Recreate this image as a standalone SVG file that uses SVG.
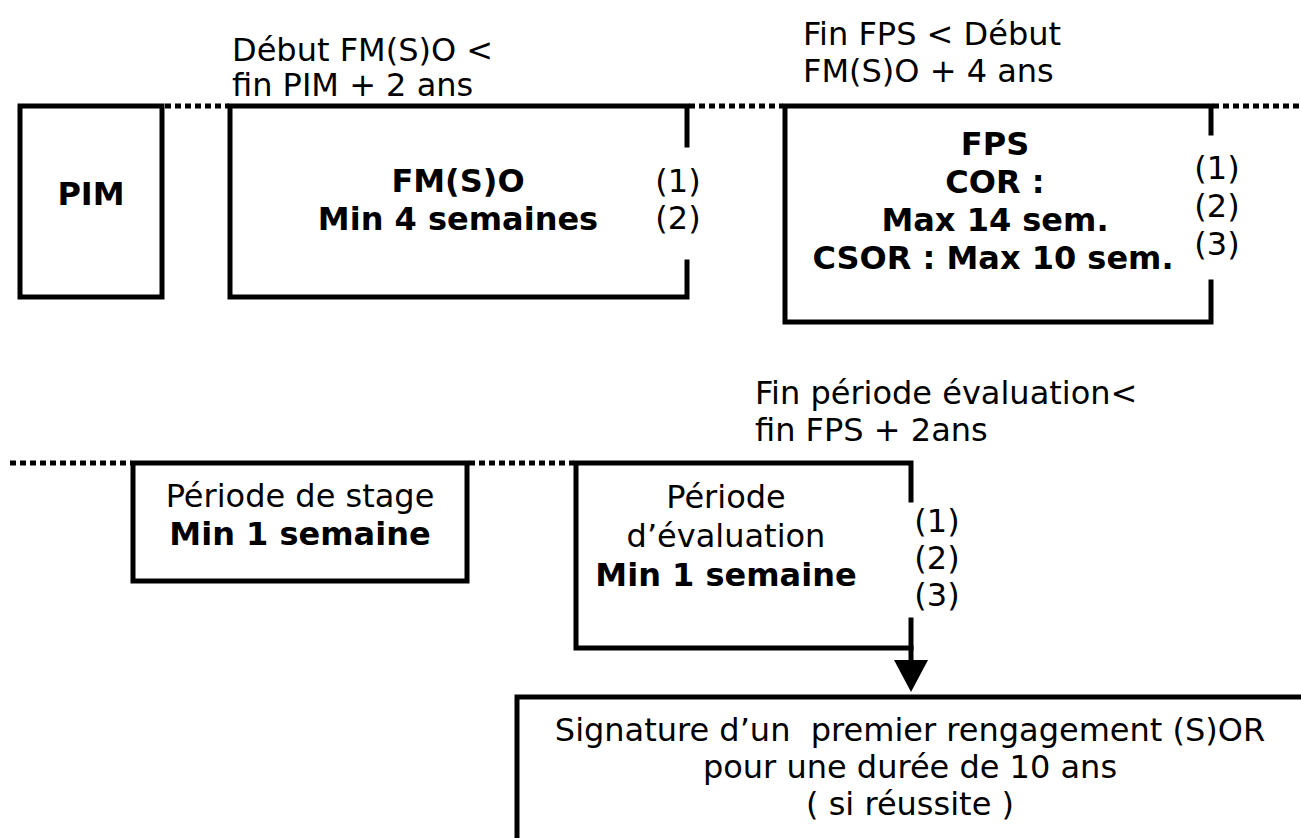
<svg xmlns="http://www.w3.org/2000/svg" width="1301" height="838" viewBox="0 0 1301 838">
<style>
text{font-family:"DejaVu Sans",Verdana,sans-serif;font-size:32px;fill:#000}
.b{font-weight:bold}
.m{text-anchor:middle}
.box{fill:none;stroke:#000;stroke-width:5;stroke-linecap:square}
.dot{fill:none;stroke:#000;stroke-width:5;stroke-dasharray:6 4}
</style>
<rect width="1301" height="838" fill="#fff"/>
<g id="connectors">
<path class="dot" d="M165,106H229"/>
<path class="dot" d="M689,106H783"/>
<path class="dot" d="M1213,106H1301"/>
<path class="dot" d="M10,463H131"/>
<path class="dot" d="M469,463H574"/>
<path class="box" d="M911,620V662"/>
<polygon points="894,660 928,660 911,692" fill="#000"/>
</g>
<g id="pim">
<rect class="box" x="20" y="106" width="142" height="191"/>
<text class="b m" x="91" y="205">PIM</text>
</g>
<g id="label-debut">
<text x="232" y="61">Début FM(S)O &lt;</text>
<text x="232" y="96">fin PIM + 2 ans</text>
</g>
<g id="fmso">
<path class="box" d="M687,145V106H230V297H687V262"/>
<text class="b m" x="458" y="192">FM(S)O</text>
<text class="b m" x="458" y="230">Min 4 semaines</text>
<text class="m" x="678" y="192">(1)</text>
<text class="m" x="678" y="229">(2)</text>
</g>
<g id="label-finfps">
<text x="803" y="45">Fin FPS &lt; Début</text>
<text x="803" y="82">FM(S)O + 4 ans</text>
</g>
<g id="fps">
<path class="box" d="M1211,133V106H785V322H1211V282"/>
<text class="b m" x="995" y="155">FPS</text>
<text class="b m" x="995" y="193">COR :</text>
<text class="b m" x="995" y="231">Max 14 sem.</text>
<text class="b m" x="993" y="269">CSOR : Max 10 sem.</text>
<text class="m" x="1217" y="179">(1)</text>
<text class="m" x="1217" y="217">(2)</text>
<text class="m" x="1217" y="255">(3)</text>
</g>
<g id="label-fineval">
<text x="755" y="404">Fin période évaluation&lt;</text>
<text x="755" y="441">fin FPS + 2ans</text>
</g>
<g id="stage">
<rect class="box" x="133" y="463" width="334" height="118"/>
<text class="m" x="300" y="507">Période de stage</text>
<text class="b m" x="300" y="545">Min 1 semaine</text>
</g>
<g id="evaluation">
<path class="box" d="M911,500V463H576V648H911"/>
<text class="m" x="726" y="508">Période</text>
<text class="m" x="726" y="547">d’évaluation</text>
<text class="b m" x="726" y="586">Min 1 semaine</text>
<text class="m" x="937" y="532">(1)</text>
<text class="m" x="937" y="569">(2)</text>
<text class="m" x="937" y="606">(3)</text>
</g>
<g id="signature">
<path class="box" d="M517,845V697H1310"/>
<text class="m" x="910" y="741" xml:space="preserve">Signature d’un  premier rengagement (S)OR</text>
<text class="m" x="910" y="778">pour une durée de 10 ans</text>
<text class="m" x="910" y="815">( si réussite )</text>
</g>
</svg>
